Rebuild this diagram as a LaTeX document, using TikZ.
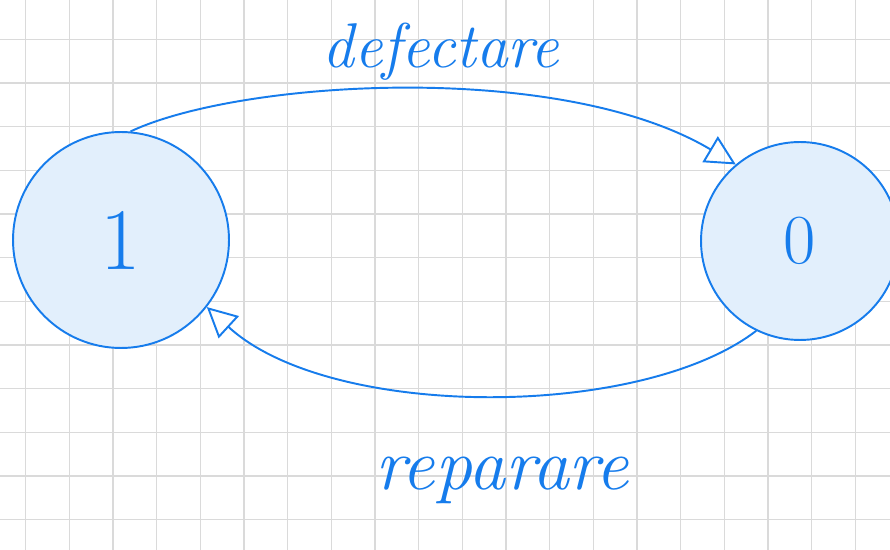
\documentclass[tikz,border=0pt]{standalone}
\usepackage{xcolor}
\usepackage{tikz}
\usetikzlibrary{shapes.geometric, arrows.meta}
\definecolor{penblue}{RGB}{22,124,236}
\definecolor{statefill}{RGB}{226,239,252}
\definecolor{gridgray}{RGB}{218,218,218}
\tikzstyle{state} = [circle,
    inner sep=0pt,
    draw=penblue,
    line width=1.1pt,
    fill=statefill,
    text=penblue]
\tikzstyle{gridline} = [gridgray, line width=0.7pt]
\tikzstyle{arrow} = [penblue, line width=1.1pt,
    -{Triangle[open, length=17pt, width=17pt]}]
\tikzstyle{hand} = [text=penblue]

\begin{document}
\begin{tikzpicture}[x=0.02cm, y=-0.02cm]
        \clip (0,0) rectangle (890,550);
        \useasboundingbox (0,0) rectangle (890,550);
        \fill[white] (0,0) rectangle (890,550);

        % squared paper
        \foreach \k in {0,...,19}
            \draw [gridline] (25.7+43.67*\k,0) -- (25.7+43.67*\k,550);
        \foreach \k in {0,...,11}
            \draw [gridline] (0,39.3+43.67*\k) -- (890,39.3+43.67*\k);

        \node (state1) [state, minimum size=4.32cm, font=\fontsize{50}{60}\selectfont] at (121,240) {1};
        \node (state0) [state, minimum size=3.96cm, font=\fontsize{40}{48}\selectfont] at (800,241) {0};

        \node (failure) [hand, font=\itshape\fontsize{36}{42}\selectfont] at (441,52) {defectare};
        \node (repair) [hand, font=\itshape\fontsize{42}{50}\selectfont] at (502,480) {reparare};

        \draw [arrow] (state1.85) .. controls (240,80) and (560,60) .. (state0.130);
        \draw [arrow] (state0.-116) .. controls (640,420) and (330,420) .. (state1.-38);
    \end{tikzpicture}
\end{document}
